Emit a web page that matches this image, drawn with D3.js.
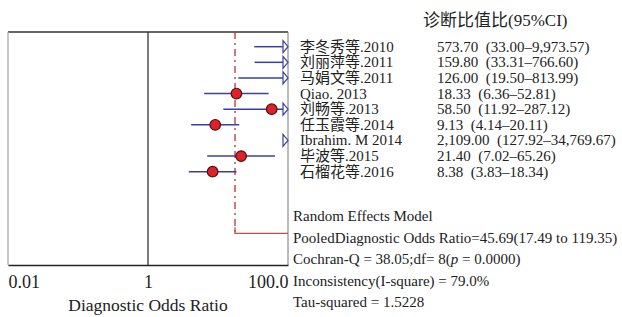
<!DOCTYPE html>
<html>
<head>
<meta charset="utf-8">
<script src="https://cdn.jsdelivr.net/npm/d3@7"></script>
<style>
  body { margin: 0; background: #fff; }
  text { font-family: "Liberation Serif", "Noto Sans CJK SC", serif; fill: #222; white-space: pre; }
</style>
</head>
<body>
<div id="forest"></div>
<script>
// study names and diagnostic odds ratios (95% CI)
var studies = ["李冬秀等.2010", "刘丽萍等.2011", "马娟文等.2011", "Qiao. 2013", "刘畅等.2013",
  "任玉霞等.2014", "Ibrahim. M 2014", "毕波等.2015", "石榴花等.2016"];
var dor   = [573.70, 159.80, 126.00, 18.33, 58.50, 9.13, 2109.00, 21.40, 8.38];
var lower = [33.00, 33.31, 19.50, 6.36, 11.92, 4.14, 127.92, 7.02, 3.83];
var upper = [9973.57, 766.60, 813.99, 52.81, 287.12, 20.11, 34769.67, 65.26, 18.34];
var ciText = ["573.70  (33.00–9,973.57)", "159.80  (33.31–766.60)", "126.00  (19.50–813.99)",
  "18.33  (6.36–52.81)", "58.50  (11.92–287.12)", "9.13  (4.14–20.11)",
  "2,109.00  (127.92–34,769.67)", "21.40  (7.02–65.26)", "8.38  (3.83–18.34)"];

var tickValues = [0.01, 1, 100];
var tickLabels = ["0.01", "1", "100.0"];
var pooledLine = 17.5;  // where the dashed summary line sits in the picture

var summaryLines = ["Random Effects Model",
  "PooledDiagnostic Odds Ratio=45.69(17.49 to 119.35)",
  "Cochran-Q = 38.05;df= 8(p = 0.0000)",
  "Inconsistency(I-square) = 79.0%",
  "Tau-squared = 1.5228"];

var width = 622, height = 317;
var box = {left: 8, right: 288, top: 32, bottom: 265};

var svg = d3.select("#forest").append("svg")
  .attr("width", width)
  .attr("height", height);

var x = d3.scaleLog().domain([0.01, 100]).range([box.left, box.right]);
var y = d3.scalePoint().domain(studies).range([46.7, 171.7]);

// frame
svg.append("line").attr("x1", box.left).attr("x2", box.right).attr("y1", box.top).attr("y2", box.top)
  .attr("stroke", "#333").attr("stroke-width", 1.3);
svg.append("line").attr("x1", box.left).attr("x2", box.left).attr("y1", box.top).attr("y2", box.bottom)
  .attr("stroke", "#aaa").attr("stroke-width", 1.3);
svg.append("line").attr("x1", box.right).attr("x2", box.right).attr("y1", box.top).attr("y2", box.bottom)
  .attr("stroke", "#777").attr("stroke-width", 1);

// no-effect line at 1
svg.append("line").attr("x1", x(1)).attr("x2", x(1)).attr("y1", box.top).attr("y2", box.bottom)
  .attr("stroke", "#333").attr("stroke-width", 1.3);

// pooled dashed line + bracket to the summary text
var bracketY = 233.3;
svg.append("line").attr("x1", x(pooledLine)).attr("x2", x(pooledLine)).attr("y1", box.top).attr("y2", bracketY)
  .attr("stroke", "#b03535").attr("stroke-width", 1.3).attr("stroke-dasharray", "7,4,2,4");
svg.append("path")
  .attr("d", `M${x(pooledLine)},${bracketY - 6}V${bracketY}H${box.right}`)
  .attr("fill", "none").attr("stroke", "#b85050").attr("stroke-width", 1.3);

// bottom axis
var axis = d3.axisBottom(x).tickValues(tickValues).tickSize(0).tickPadding(10)
  .tickFormat((d, i) => tickLabels[i]);
var gAxis = svg.append("g").attr("transform", `translate(0,${box.bottom})`).call(axis);
gAxis.select(".domain").attr("stroke", "#222").attr("stroke-width", 1.5);
gAxis.selectAll("text").style("font-family", "Liberation Serif").style("font-size", "18px").attr("fill", "#222")
  .attr("text-anchor", (d, i) => i === 0 ? "start" : i === tickValues.length - 1 ? "end" : "middle");

svg.append("text").attr("x", x(1)).attr("y", 311).attr("text-anchor", "middle")
  .style("font-family", "Liberation Serif").style("font-size", "17.5px").text("Diagnostic Odds Ratio");

// study rows
var rows = svg.append("g").selectAll("g").data(studies).join("g");
var clip = v => Math.max(0.01, Math.min(100, v));

rows.append("line")
  .attr("x1", (d, i) => x(clip(lower[i])))
  .attr("x2", (d, i) => upper[i] > 100 ? x(100) - 5 : x(upper[i]))
  .attr("y1", d => y(d)).attr("y2", d => y(d))
  .attr("stroke", "#3b3fa3").attr("stroke-width", 1.5)
  .attr("display", (d, i) => lower[i] > 100 ? "none" : null);

// open arrows where the CI runs past 100
rows.filter((d, i) => upper[i] > 100).append("path")
  .attr("d", d => `M${x(100) - 5},${y(d) - 6}L${x(100)},${y(d)}L${x(100) - 5},${y(d) + 6}Z`)
  .attr("fill", "#fff").attr("stroke", "#3b3fa3").attr("stroke-width", 1.2);

rows.filter((d, i) => dor[i] <= 100).append("circle")
  .attr("cx", d => x(dor[studies.indexOf(d)]))
  .attr("cy", d => y(d))
  .attr("r", 5.3)
  .attr("fill", "#e02128").attr("stroke", "#4a1010").attr("stroke-width", 1.2);

rows.append("text").attr("x", 300).attr("y", d => y(d) + 5)
  .style("font-size", "15px").text(d => d);
rows.append("text").attr("x", 437).attr("y", d => y(d) + 5)
  .style("font-size", "15px").text((d, i) => ciText[i]);

svg.append("text").attr("x", 423).attr("y", 26).style("font-size", "17px").text("诊断比值比(95%CI)");

// summary statistics
svg.append("g").selectAll("text").data(summaryLines).join("text")
  .attr("x", 293).attr("y", (d, i) => 221 + i * 21.6)
  .style("font-size", "15px")
  .each(function(d, i) {
    var t = d3.select(this);
    if (i === 2) {
      t.append("tspan").text("Cochran-Q = 38.05;df= 8(");
      t.append("tspan").style("font-style", "italic").text("p");
      t.append("tspan").text(" = 0.0000)");
    } else {
      t.text(d);
    }
  });
</script>
</body>
</html>
